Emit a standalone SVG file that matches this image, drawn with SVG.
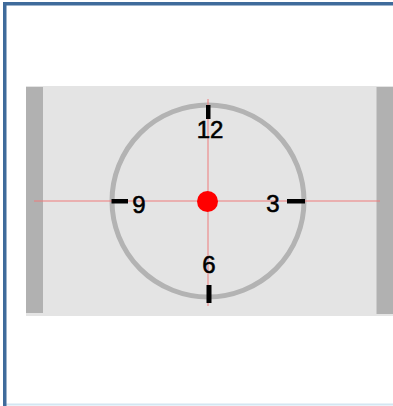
<svg xmlns="http://www.w3.org/2000/svg" width="393" height="406" viewBox="0 0 393 406">
<style>
.num{font-family:"Liberation Sans",Arial,sans-serif;font-size:24px;fill:#000;stroke:#000;stroke-width:0.6;text-anchor:middle}
.tick{fill:#000}
.guide{stroke:#ee7b7b;stroke-width:1;fill:none}
.bar{fill:#b1b1b1}
</style>
<rect x="0" y="0" width="393" height="406" fill="#fff"/>
<g id="frame">
<line x1="3" y1="404.5" x2="393" y2="404.5" stroke="#d3e6f2" stroke-width="2"/>
<rect x="3" y="2" width="390" height="3.5" fill="#3f6b9b"/>
<rect x="3" y="2" width="3.5" height="404" fill="#3f6b9b"/>
</g>
<g id="panel">
<rect x="26" y="86" width="367" height="230" fill="#e4e4e4"/>
<rect class="bar" x="26" y="87" width="17" height="226"/>
<rect class="bar" x="376.5" y="87" width="16.5" height="227"/>
</g>
<g id="dial">
<circle cx="208" cy="201" r="96" fill="none" stroke="#b3b3b3" stroke-width="5"/>
</g>
<g id="guides">
<line class="guide" x1="34" y1="201" x2="380" y2="201"/>
<line class="guide" x1="208" y1="99" x2="208" y2="306"/>
</g>
<g id="ticks">
<rect class="tick" x="206" y="105" width="4.5" height="14"/>
<rect class="tick" x="287" y="199" width="18" height="4.5"/>
<rect class="tick" x="111.5" y="199" width="16.5" height="4.5"/>
<rect class="tick" x="206.5" y="285" width="5" height="18"/>
</g>
<g id="labels">
<text class="num" x="210" y="138">12</text>
<text class="num" x="273" y="211.5">3</text>
<text class="num" x="139" y="212.5">9</text>
<text class="num" x="209" y="272.5">6</text>
</g>
<g id="center">
<circle cx="207.5" cy="201.5" r="10.5" fill="#ff0000"/>
</g>
</svg>
